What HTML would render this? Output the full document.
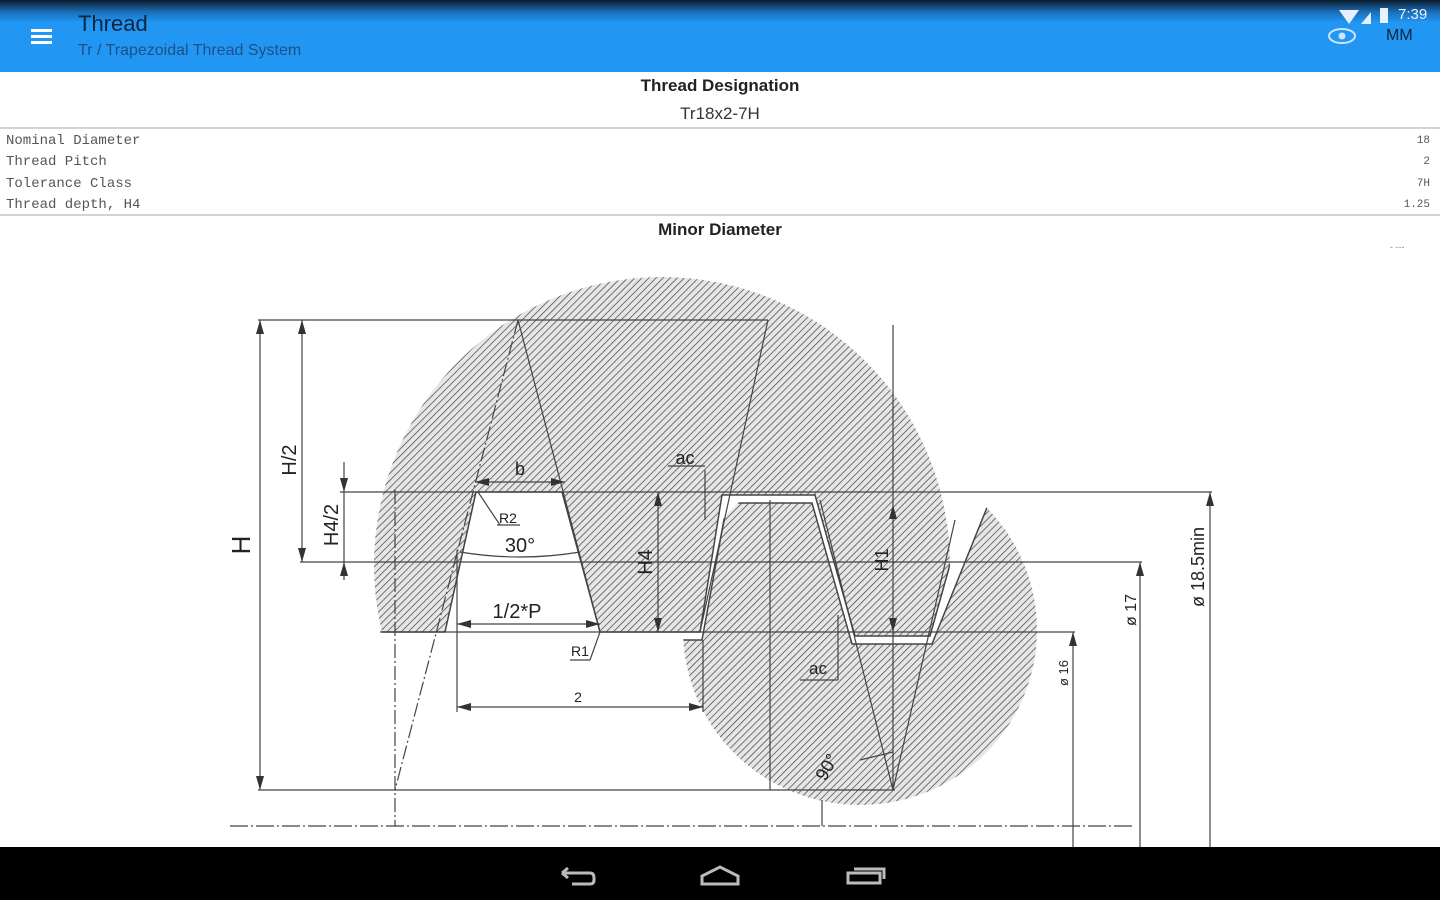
<!DOCTYPE html>
<html><head><meta charset="utf-8"><style>
*{margin:0;padding:0;box-sizing:border-box}
body{width:1440px;height:900px;overflow:hidden;background:#fff;font-family:"Liberation Sans",sans-serif;position:relative}
.abs{position:absolute}
.top{left:0;top:0;width:1440px;height:72px;background:linear-gradient(#0a1a2a 0,#1a6fb8 12px,#2196f3 22px,#2196f3 100%)}
.mono{font-family:"Liberation Mono",monospace;font-size:14px;color:#555}
</style></head><body>
<div class="abs top"></div>
<div class="abs" style="left:31px;top:29px;width:21px;height:3px;background:#fff;box-shadow:0 6px 0 #fff,0 12px 0 #fff"></div>
<div class="abs" style="left:78px;top:11px;font-size:22px;color:#10243f">Thread</div>
<div class="abs" style="left:78px;top:42px;font-size:16px;color:#1f4f85">Tr / Trapezoidal Thread System</div>
<div class="abs" style="left:1386px;top:27px;font-size:16px;color:#10243f">MM</div>
<div class="abs" style="left:1398px;top:6px;font-size:15px;color:#e8f0ff">7:39</div>
<svg class="abs" style="left:1325px;top:4px" width="75" height="55"><path d="M14 6 L34 6 L24 20Z" fill="#e8f0ff"/><path d="M36 20 L46 8 L46 20Z" fill="#e8f0ff"/><rect x="55" y="4" width="8" height="15" fill="#e8f0ff"/><ellipse cx="17" cy="32" rx="13" ry="7" fill="none" stroke="#cfe3ff" stroke-width="2"/><circle cx="17" cy="32" r="3.5" fill="#cfe3ff"/></svg>
<div class="abs" style="left:0;top:76px;width:1440px;text-align:center;font-size:17px;font-weight:bold;color:#222">Thread Designation</div>
<div class="abs" style="left:0;top:104px;width:1440px;text-align:center;font-size:17px;color:#333">Tr18x2-7H</div>
<div class="abs" style="left:0;top:127px;width:1440px;height:2px;background:#dccfd3"></div>
<div class="abs mono" style="left:6px;top:131px;line-height:21.3px">Nominal Diameter<br>Thread Pitch<br>Tolerance Class<br>Thread depth, H4</div>
<div class="abs mono" style="right:10px;top:131px;line-height:21.3px;font-size:11px;text-align:right">18<br>2<br>7H<br>1.25</div>
<div class="abs" style="left:0;top:214px;width:1440px;height:2px;background:#dccfd3"></div>
<div class="abs" style="left:0;top:220px;width:1440px;text-align:center;font-size:17px;font-weight:bold;color:#222">Minor Diameter</div>
<div class="abs" style="left:1390px;top:242px;font-size:9px;color:#888">- ---</div>
<svg class="abs" style="left:0;top:0" width="1440" height="900">
<defs>
<pattern id="h" width="5" height="5" patternUnits="userSpaceOnUse" patternTransform="rotate(45)"><rect width="5" height="5" fill="#e6e6e6"/><line x1="0" y1="0" x2="0" y2="5" stroke="#4a4a4a" stroke-width="1.5"/></pattern>
<clipPath id="cn"><circle cx="662" cy="565" r="288"/></clipPath>
<clipPath id="cs"><ellipse cx="860" cy="630" rx="177" ry="175"/></clipPath>
</defs>
<g clip-path="url(#cn)"><path d="M300 200 L300 632 L445 632 L476 492 L562 492 L600 632 L700 632 L722 495 L815 495 L855 636 L930 636 L968 500 L1100 500 L1100 200Z" fill="url(#h)" stroke="#444" stroke-width="1.5"/></g>
<g clip-path="url(#cs)"><path d="M600 900 L600 640 L702 640 L727 503 L812 503 L852 644 L932 644 L988 505 L1100 505 L1100 900Z" fill="url(#h)" stroke="#444" stroke-width="1.5"/></g>
<g stroke="#444" stroke-width="1.2" fill="none">
<line x1="258" y1="320" x2="768" y2="320"/>
<line x1="340" y1="492" x2="1212" y2="492"/>
<line x1="300" y1="562" x2="1142" y2="562"/>
<line x1="380" y1="632" x2="1075" y2="632"/>
<line x1="258" y1="790" x2="895" y2="790"/>
<line x1="230" y1="826" x2="1135" y2="826" stroke-dasharray="18 3 2 3"/>
<line x1="260" y1="320" x2="260" y2="790"/>
<line x1="302" y1="320" x2="302" y2="562"/>
<line x1="344" y1="462" x2="344" y2="580"/>
<line x1="658" y1="492" x2="658" y2="632"/>
<line x1="893" y1="325" x2="893" y2="790"/>
<line x1="1140" y1="562" x2="1140" y2="847"/>
<line x1="1210" y1="492" x2="1210" y2="847"/>
<line x1="1073" y1="632" x2="1073" y2="847"/>
<line x1="457" y1="550" x2="457" y2="712"/>
<line x1="703" y1="640" x2="703" y2="712"/>
<line x1="457" y1="707" x2="703" y2="707"/>
<line x1="457" y1="624" x2="600" y2="624"/>
<line x1="475" y1="482" x2="565" y2="482"/>
<line x1="395" y1="490" x2="395" y2="826" stroke-dasharray="14 3 2 3"/>
<line x1="770" y1="500" x2="770" y2="790"/>
<line x1="518" y1="320" x2="395" y2="790" stroke-dasharray="14 3 2 3"/>
<line x1="518" y1="320" x2="600" y2="632"/>
<line x1="768" y1="320" x2="700" y2="632"/>
<line x1="820" y1="500" x2="893" y2="790"/>
<line x1="893" y1="790" x2="955" y2="520"/>
<line x1="705" y1="470" x2="705" y2="520"/>
<line x1="838" y1="615" x2="838" y2="680"/>
<line x1="822" y1="800" x2="822" y2="826"/>
<line x1="668" y1="466" x2="705" y2="466"/>
<line x1="800" y1="680" x2="838" y2="680"/>
<line x1="600" y1="632" x2="590" y2="660"/>
<line x1="570" y1="660" x2="590" y2="660"/>
<line x1="478" y1="492" x2="500" y2="525"/>
<line x1="497" y1="525" x2="520" y2="525"/>
<line x1="860" y1="760" x2="893" y2="752"/>
<path d="M460 552 Q520 562 580 552"/>
</g>
<g fill="#333">
<path d="M260 320 l-4 14 h8z M260 790 l-4 -14 h8z M302 320 l-4 14 h8z M302 562 l-4 -14 h8z M658 492 l-4 14 h8z M658 632 l-4 -14 h8z M893 505 l-4 14 h8z M893 632 l-4 -14 h8z M1210 492 l-4 14 h8z M1140 562 l-4 14 h8z M1073 632 l-4 14 h8z M457 707 l14 -4 v8z M703 707 l-14 -4 v8z M457 624 l14 -4 v8z M600 624 l-14 -4 v8z M475 482 l14 -4 v8z M565 482 l-14 -4 v8z M344 492 l-4 -14 h8z M344 562 l-4 14 h8z"/>
</g>
<g fill="#222" font-family="Liberation Sans,sans-serif">
<text x="250" y="545" font-size="26" transform="rotate(-90 250 545)" text-anchor="middle">H</text>
<text x="296" y="460" font-size="20" transform="rotate(-90 296 460)" text-anchor="middle">H/2</text>
<text x="338" y="525" font-size="20" transform="rotate(-90 338 525)" text-anchor="middle">H4/2</text>
<text x="652" y="562" font-size="20" transform="rotate(-90 652 562)" text-anchor="middle">H4</text>
<text x="888" y="560" font-size="18" transform="rotate(-90 888 560)" text-anchor="middle">H1</text>
<text x="1136" y="610" font-size="16" transform="rotate(-90 1136 610)" text-anchor="middle">ø 17</text>
<text x="1204" y="567" font-size="18" transform="rotate(-90 1204 567)" text-anchor="middle">ø 18.5min</text>
<text x="1068" y="673" font-size="13" transform="rotate(-90 1068 673)" text-anchor="middle">ø 16</text>
<text x="520" y="475" font-size="18" text-anchor="middle">b</text>
<text x="520" y="552" font-size="20" text-anchor="middle">30°</text>
<text x="517" y="618" font-size="20" text-anchor="middle">1/2*P</text>
<text x="578" y="702" font-size="14" text-anchor="middle">2</text>
<text x="508" y="523" font-size="14" text-anchor="middle">R2</text>
<text x="580" y="656" font-size="14" text-anchor="middle">R1</text>
<text x="685" y="464" font-size="18" text-anchor="middle">ac</text>
<text x="818" y="674" font-size="17" text-anchor="middle">ac</text>
<text x="832" y="770" font-size="18" transform="rotate(-60 832 770)" text-anchor="middle">90°</text>
</g>
<rect x="0" y="847" width="1440" height="53" fill="#000"/>
<g stroke="#bbb" stroke-width="3" fill="none">
<path d="M562 873 h28 q4 0 4 5 v2 q0 4 -4 4 h-18 M562 873 l6 -5 M562 873 l6 5"/>
<path d="M702 884 v-8 l18 -9 l18 9 v8z"/>
<rect x="848" y="873" width="32" height="10"/><path d="M854 869 h30 v10"/>
</g>
</svg>
</body></html>
